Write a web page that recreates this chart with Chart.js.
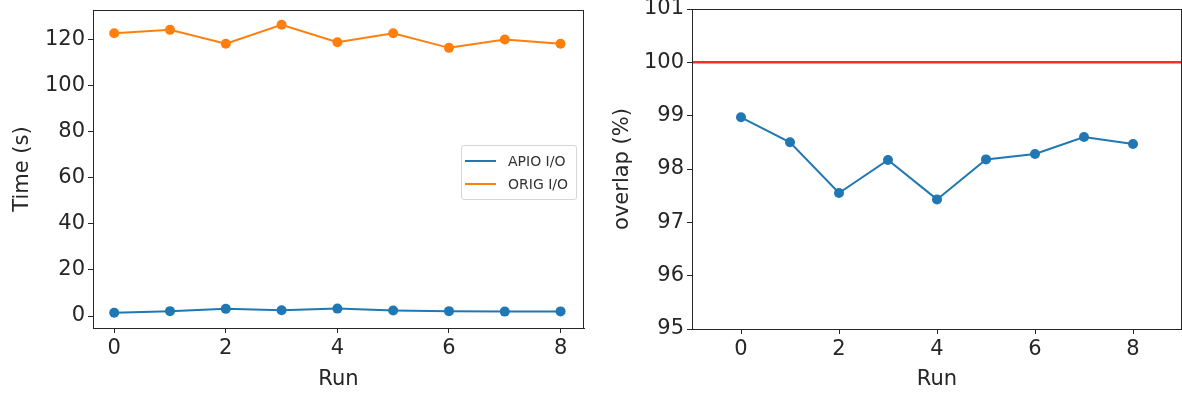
<!DOCTYPE html>
<html>
<head>
<meta charset="utf-8">
<script src="https://cdn.jsdelivr.net/npm/chart.js@4.4.1/dist/chart.umd.min.js"></script>
<style>
  body { margin: 0; background: #fff; overflow: hidden; }
  canvas { display: block; }
  #wrap { position: relative; width: 1182px; height: 394px; font-family: "DejaVu Sans", sans-serif; }
  #timeBox { position: absolute; left: 0; top: 0; width: 600px; height: 394px; }
  #overlapBox { position: absolute; left: 600px; top: 0; width: 582px; height: 394px; }
  .legend { position: absolute; left: 461px; top: 145px; width: 114px; padding: 3px 0 4px 0;
            border: 1px solid #d6d6d6; border-radius: 3px; background: rgba(255,255,255,0.8);
            font-size: 14px; color: #333; }
  .legend .row { display: flex; align-items: center; height: 23px; }
  .legend .swatch { width: 31px; height: 2px; margin: 0 12px 0 3px; }
</style>
</head>
<body>
<div id="wrap">
  <div id="timeBox"><canvas id="timeChart" width="600" height="394"></canvas></div>
  <div id="overlapBox"><canvas id="overlapChart" width="582" height="394"></canvas></div>
  <div class="legend" id="timeLegend"></div>
</div>
<script>
(function(){
  // run index on the x axis
  const runs = [0, 1, 2, 3, 4, 5, 6, 7, 8];

  // seconds per run
  const apioIO = [1.4, 2.1, 3.1, 2.5, 3.2, 2.4, 2.1, 1.9, 2.0];
  const origIO = [122.5, 124.0, 118.0, 126.2, 118.6, 122.5, 116.2, 119.8, 118.0];

  // overlap in percent per run
  const overlap = [98.97, 98.50, 97.55, 98.17, 97.43, 98.18, 98.28, 98.60, 98.47];
  const overlapTarget = 100;

  // tick labels
  const runTicks = [0, 2, 4, 6, 8];
  const timeTicks = [0, 20, 40, 60, 80, 100, 120];
  const overlapTicks = [95, 96, 97, 98, 99, 100, 101];

  const BLUE = '#1f77b4', ORANGE = '#ff7f0e', RED = '#ff2a2a';
  const FONT = { family: '"DejaVu Sans", sans-serif', size: 21 };
  const INK = '#262626';

  const pts = ys => runs.map((x, i) => ({ x, y: ys[i] }));

  // draw the top/right spines as well
  const frame = {
    id: 'frame',
    afterDraw(c){
      const a = c.chartArea, ctx = c.ctx;
      ctx.save();
      ctx.strokeStyle = INK;
      ctx.lineWidth = 1;
      ctx.strokeRect(Math.round(a.left) + 0.5, Math.round(a.top) + 0.5,
                     Math.round(a.right - a.left) - 1, Math.round(a.bottom - a.top));
      ctx.restore();
    }
  };

  function axis(opts){
    return {
      type: 'linear',
      min: opts.min, max: opts.max,
      afterBuildTicks: s => { s.ticks = opts.ticks.map(v => ({ value: v })); },
      afterFit: s => {
        if (opts.width) s.width = opts.width;
        if (opts.height) s.height = opts.height;
        // keep label overflow from pushing the plot area around
        s.paddingTop = 0; s.paddingBottom = 0; s.paddingLeft = 0; s.paddingRight = 0;
      },
      grid: { drawOnChartArea: false, drawTicks: true, tickLength: 5, color: INK, lineWidth: 1 },
      border: { display: true, color: INK, width: 1 },
      ticks: { font: FONT, color: INK, padding: 3, autoSkip: false, maxRotation: 0 },
      title: { display: true, text: opts.title, font: FONT, color: INK, padding: opts.titlePad }
    };
  }

  function line(label, data, color, r){
    return { label, data, borderColor: color, backgroundColor: color, borderWidth: 2,
             pointRadius: r, pointHoverRadius: r, pointBorderWidth: 0, tension: 0 };
  }

  const common = {
    responsive: false,
    animation: false,
    events: [],
    plugins: { legend: { display: false }, tooltip: { enabled: false } }
  };

  const timeChart = new Chart(document.getElementById('timeChart'), {
    type: 'line',
    data: { datasets: [ line('APIO I/O', pts(apioIO), BLUE, 5), line('ORIG I/O', pts(origIO), ORANGE, 5) ] },
    options: Object.assign({}, common, {
      layout: { autoPadding: false, padding: { top: 10, right: 16, bottom: 0, left: 0 } },
      scales: {
        x: axis({ min: -0.38, max: 8.42, ticks: runTicks, height: 66, title: 'Run', titlePad: { top: 0, bottom: 2 } }),
        y: axis({ min: -5.2, max: 132.6, ticks: timeTicks, width: 93, title: 'Time (s)', titlePad: { top: 10, bottom: 0 } })
      }
    }),
    plugins: [frame]
  });

  new Chart(document.getElementById('overlapChart'), {
    type: 'line',
    data: { datasets: [
      line('overlap', pts(overlap), BLUE, 5),
      Object.assign(line('target', [{ x: -1, y: overlapTarget }, { x: 9, y: overlapTarget }], RED, 0), { borderWidth: 2.5 })
    ] },
    options: Object.assign({}, common, {
      layout: { autoPadding: false, padding: { top: 9, right: 0, bottom: 0, left: 0 } },
      scales: {
        x: axis({ min: -1, max: 9, ticks: runTicks, height: 65, title: 'Run', titlePad: { top: 0, bottom: 2 } }),
        y: axis({ min: 95, max: 101, ticks: overlapTicks, width: 92, title: 'overlap (%)', titlePad: { top: 10, bottom: 0 } })
      }
    }),
    plugins: [frame]
  });

  // html legend from the time chart datasets
  const legend = document.getElementById('timeLegend');
  legend.innerHTML = timeChart.data.datasets.map(d =>
    `<div class="row"><span class="swatch" style="background:${d.borderColor}"></span>${d.label}</div>`
  ).join('');
})();
</script>
</body>
</html>
